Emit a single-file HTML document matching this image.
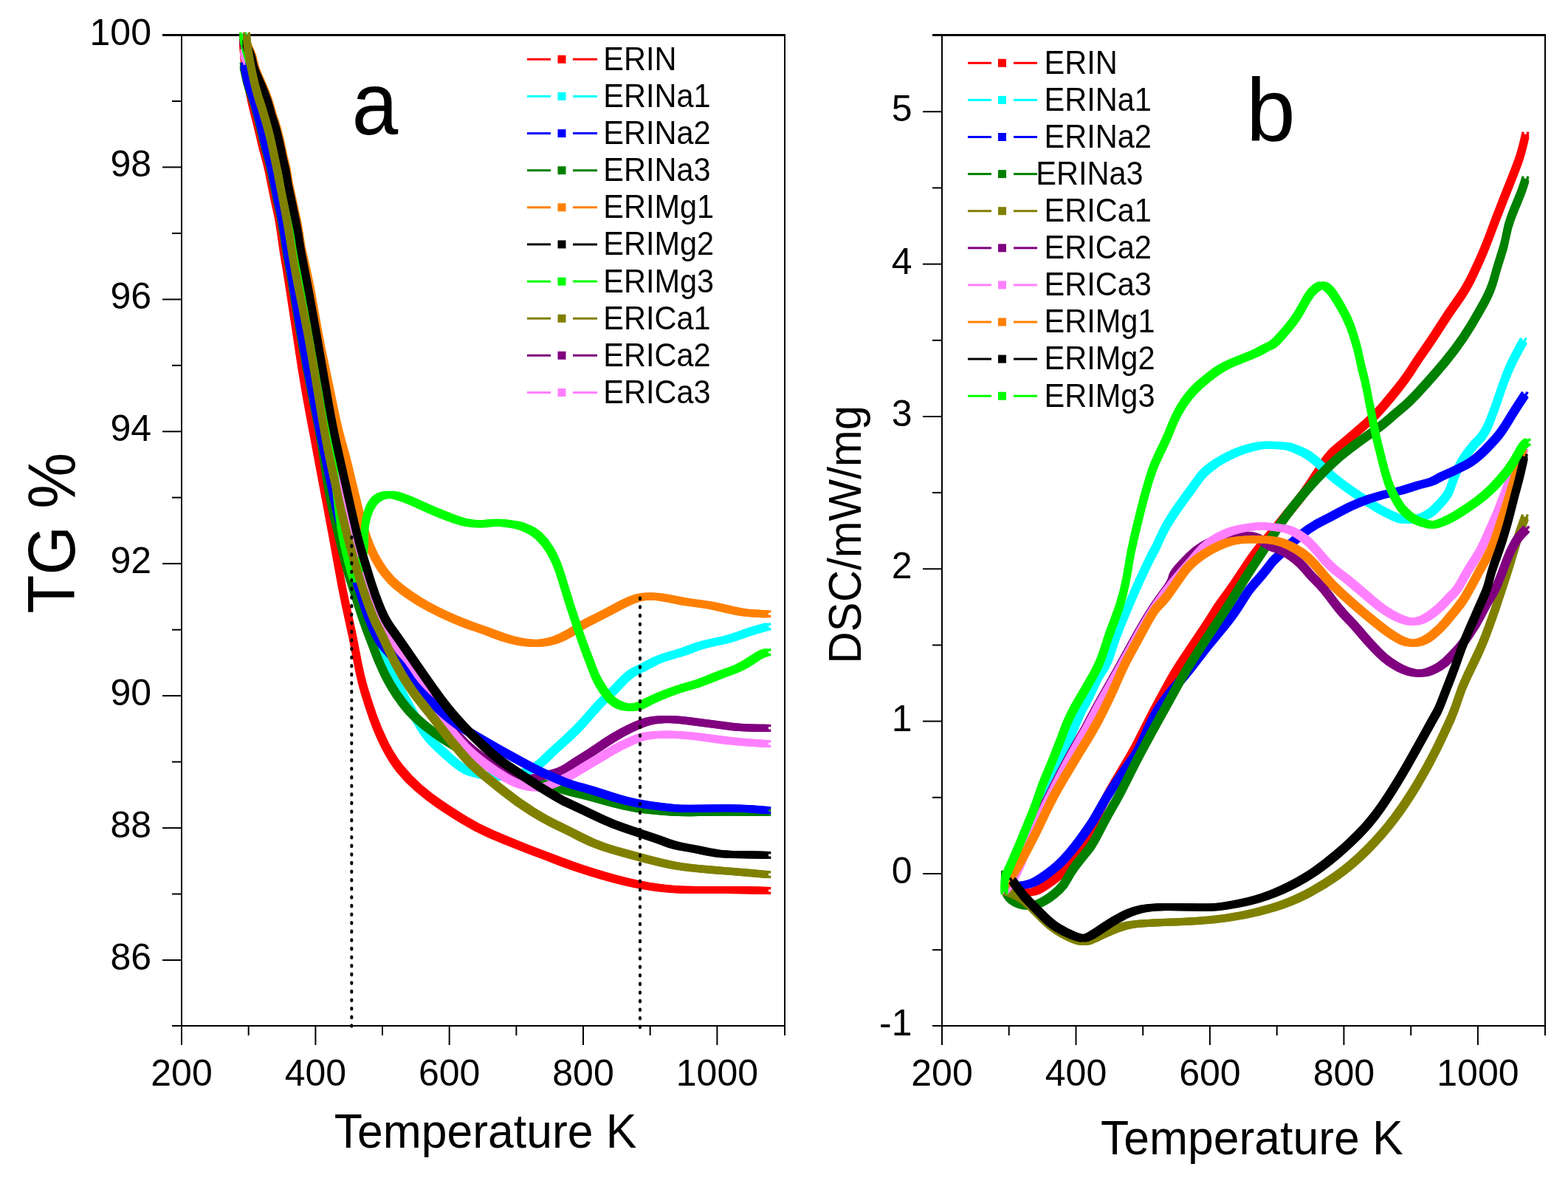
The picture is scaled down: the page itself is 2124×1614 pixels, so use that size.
<!DOCTYPE html>
<html><head><meta charset="utf-8"><title>TG / DSC</title>
<style>html,body{margin:0;padding:0;background:#fff;}svg{display:block;}text{font-family:'Liberation Sans', Arial, sans-serif;fill:#000;}</style></head><body>
<svg xmlns="http://www.w3.org/2000/svg" width="2124" height="1614" viewBox="0 0 2124 1614">
<rect width="2124" height="1614" fill="#fff"/>
<g stroke="#000" fill="none">
<line x1="220" y1="47.5" x2="1064" y2="47.5" stroke-width="3"/>
<line x1="246" y1="46" x2="246" y2="1390" stroke-width="2"/>
<line x1="1063" y1="46" x2="1063" y2="1402" stroke-width="2"/>
<line x1="233" y1="1389" x2="1064" y2="1389" stroke-width="2"/>
<line x1="220" y1="1300" x2="246" y2="1300" stroke-width="2"/>
<line x1="220" y1="1121.1" x2="246" y2="1121.1" stroke-width="2"/>
<line x1="220" y1="942.1" x2="246" y2="942.1" stroke-width="2"/>
<line x1="220" y1="763.2" x2="246" y2="763.2" stroke-width="2"/>
<line x1="220" y1="584.3" x2="246" y2="584.3" stroke-width="2"/>
<line x1="220" y1="405.4" x2="246" y2="405.4" stroke-width="2"/>
<line x1="220" y1="226.4" x2="246" y2="226.4" stroke-width="2"/>
<line x1="233" y1="1210.5" x2="246" y2="1210.5" stroke-width="2"/>
<line x1="233" y1="1031.6" x2="246" y2="1031.6" stroke-width="2"/>
<line x1="233" y1="852.7" x2="246" y2="852.7" stroke-width="2"/>
<line x1="233" y1="673.7" x2="246" y2="673.7" stroke-width="2"/>
<line x1="233" y1="494.8" x2="246" y2="494.8" stroke-width="2"/>
<line x1="233" y1="315.9" x2="246" y2="315.9" stroke-width="2"/>
<line x1="233" y1="137" x2="246" y2="137" stroke-width="2"/>
<line x1="246" y1="1389" x2="246" y2="1415" stroke-width="2"/>
<line x1="427.4" y1="1389" x2="427.4" y2="1415" stroke-width="2"/>
<line x1="608.7" y1="1389" x2="608.7" y2="1415" stroke-width="2"/>
<line x1="790" y1="1389" x2="790" y2="1415" stroke-width="2"/>
<line x1="971.4" y1="1389" x2="971.4" y2="1415" stroke-width="2"/>
<line x1="336.7" y1="1389" x2="336.7" y2="1402" stroke-width="2"/>
<line x1="518" y1="1389" x2="518" y2="1402" stroke-width="2"/>
<line x1="699.4" y1="1389" x2="699.4" y2="1402" stroke-width="2"/>
<line x1="880.7" y1="1389" x2="880.7" y2="1402" stroke-width="2"/>
</g>
<g font-size="50">
<text x="205" y="60.5" text-anchor="end">100</text>
<text x="205" y="239.4" text-anchor="end">98</text>
<text x="205" y="418.4" text-anchor="end">96</text>
<text x="205" y="597.3" text-anchor="end">94</text>
<text x="205" y="776.2" text-anchor="end">92</text>
<text x="205" y="955.1" text-anchor="end">90</text>
<text x="205" y="1134.1" text-anchor="end">88</text>
<text x="205" y="1313" text-anchor="end">86</text>
<text x="246" y="1469.5" text-anchor="middle">200</text>
<text x="427.4" y="1469.5" text-anchor="middle">400</text>
<text x="608.7" y="1469.5" text-anchor="middle">600</text>
<text x="790" y="1469.5" text-anchor="middle">800</text>
<text x="971.4" y="1469.5" text-anchor="middle">1000</text>
</g>
<defs>
<path id="c1" d="M329 50L329.5 62.5Q330 75 331.7 87.2Q333.4 99.5 337.1 119Q340.8 138.5 345.5 156.2Q350.1 173.8 352.5 184.9Q354.8 196 358.1 207Q361.3 218 364.1 231.2Q366.8 244.5 369.6 258.4Q372.4 272.3 375.2 284.4Q378 296.5 380.8 316.9Q383.5 337.4 386.8 355.9Q390 374.3 395.6 411.5Q401.3 448.7 406.9 485.9Q412.5 523 419.9 561.5Q427.3 600 432.2 627Q437.2 654 444.4 691.5Q451.5 729 458.1 766Q464.6 803 471.1 831.5Q477.7 860 482.8 887.9Q487.9 915.8 493.4 934.4Q499 953 505.5 971.5Q512 990 521.3 1008.5Q530.6 1027 541.8 1041Q553 1055 566.9 1067Q580.8 1079 594.8 1088.5Q608.7 1098 627.3 1109.5Q645.9 1121 664.5 1129Q683 1137 701.6 1144.4Q720.2 1151.8 730.1 1155.4Q740 1159 755.4 1165Q770.7 1171 786 1176Q801.3 1181 816.6 1185.5Q832 1190 847.4 1193.8Q862.7 1197.5 878 1200Q893.3 1202.5 908.6 1203.8Q924 1205 944.5 1205Q965 1205 985.4 1205Q1005.8 1205 1041 1206"/>
<path id="c2" d="M331 50L332.6 57Q334.2 64 337.9 84.5Q341.7 105 345.4 119Q349.1 133 351.5 139.5Q353.8 146 358.9 163.5Q364 181 366.8 194Q369.5 207 372.3 220Q375.1 233 377.9 248Q380.7 263 384.4 281.5Q388.1 300 390.9 318.5Q393.7 337 396.9 355.5Q400 374 408 412Q416 450 422 486.5Q428 523 434.5 561.5Q441 600 446.5 627Q452 654 460 691.5Q468 729 476 759.5Q484 790 490.5 815Q497 840 503.5 857.5Q510 875 515 885Q520 895 523.5 900.8Q527 906.5 540 929.8Q553 953 564 973.5Q575 994 587.2 1006Q599.4 1018 613.3 1030Q627.3 1042 636.6 1045Q645.9 1048 658 1050.5Q670 1053 685 1051.5Q700 1050 707.5 1047Q715 1044 722.2 1040.3Q729.5 1036.6 738.8 1027.3Q748 1018 759.4 1008Q770.7 998 780.9 987.9Q791 977.7 801.3 965.4Q811.6 953 821.8 943.9Q832 934.8 842.2 923.5Q852.5 912.3 862.8 907.6Q873 903 880.8 898.5Q888.6 894 897.9 890.9Q907.2 887.7 916.5 885.2Q925.8 882.8 935 879Q944.3 875.3 953.6 872.8Q963 870.4 972.2 868.5Q981.5 866.7 990.8 863.9Q1000 861 1009.4 857.6Q1018.7 854.3 1041 848"/>
<path id="c3" d="M329.5 88L331.8 99Q334 110 336.5 117.5Q339 125 341.4 131.8Q343.8 138.5 348.5 156.2Q353.1 173.8 355.5 184.9Q357.8 196 361.1 207Q364.3 218 367.1 231.2Q369.8 244.5 372.6 258.4Q375.4 272.3 378.2 284.4Q381 296.5 384 316.9Q387 337.4 390.5 355.7Q394 374 400 411.5Q406 449 413 486Q420 523 427.8 561.5Q435.5 600 440.2 634Q445 668 452.2 698.5Q459.5 729 465.1 751.5Q470.7 774 474.9 786.4Q479 798.7 484.2 816Q489.5 833.4 496 850.8Q502.5 868.1 509.2 885.5Q516 902.8 522.7 915.8Q529.4 928.8 537.2 940.4Q545 952 553.5 961.8Q562 971.5 576 982.8Q590 994 605 1003.5Q620 1013 635 1021Q650 1029 665 1035.5Q680 1042 695 1047.5Q710 1053 725 1057.5Q740 1062 755.4 1067Q770.7 1072 786 1075.5Q801.3 1079 816.6 1083.5Q832 1088 847.4 1091.5Q862.7 1095 878 1096.8Q893.3 1098.5 908.6 1099.5Q924 1100.5 944.5 1100Q965 1099.5 985.4 1099.5Q1005.8 1099.5 1041 1100"/>
<path id="c4" d="M330 60L332.2 59Q334.5 58 335.2 61Q336 64 339.2 70.5Q342.5 77 344 85.5Q345.5 94 351 106Q356.5 118 360.8 129Q365 140 367.5 149.5Q370 159 372 164.5Q374 170 377 181Q380 192 382.5 204.5Q385 217 387 224.5Q389 232 390.2 241Q391.5 250 393.8 260Q396 270 398 279.5Q400 289 401.8 297Q403.5 305 404.8 312Q406 319 407.2 328Q408.5 337 412.8 355.5Q417 374 419 383.5Q421 393 427.5 430Q434 467 440 495Q446 523 451.8 551.5Q457.5 580 463.2 600Q469 620 473 637Q477 654 480.8 669.3Q484.5 684.6 488.2 699.5Q491.9 714.3 497.1 729.1Q502.3 744 508.2 755.2Q514.2 766.4 521.6 776Q529 785.7 538 793.2Q546.9 800.6 558 808Q569.2 815.5 580.4 821.5Q591.5 827.4 602.6 832.6Q613.8 837.8 625 842.2Q636.1 846.7 647.2 850.4Q658.4 854.1 669.5 858.5Q680.7 863 691.9 866Q703 869 711.5 870Q720 871 726.8 871Q733.6 871 742.9 869.1Q752.2 867.2 761.5 862.6Q770.8 858 780.1 851.9Q789.4 845.8 803.3 838.9Q817.3 832 831.2 824.5Q845.2 817 854.5 812.9Q863.8 808.7 873 807.8Q882.3 806.8 894.8 808.5Q907.2 810.3 916.5 812.5Q925.8 814.6 935 815.8Q944.3 817 953.6 818.3Q963 819.6 972.2 821.8Q981.5 824 990.8 826.1Q1000 828.2 1009.4 829.5Q1018.7 830.7 1041 831.3"/>
<path id="c5" d="M329 55L330 58.5Q331 62 337.4 83.5Q343.7 105 347.4 119Q351.1 133 353.5 139.5Q355.8 146 360.9 163.5Q366 181 368.8 194Q371.5 207 374.3 220Q377.1 233 379.9 248Q382.7 263 386.4 281.5Q390.1 300 392.9 318.5Q395.7 337 398.9 355.5Q402 374 410 412Q418 450 424 486.5Q430 523 436.5 561.5Q443 600 449 627Q455 654 462 686Q469 718 473 734.5Q477 751 482 768Q487 785 492.5 801.5Q498 818 506.5 831.5Q515 845 523.5 858Q532 871 543 885Q554 899 561 911Q568 923 573 931Q578 939 585 950.5Q592 962 598.5 970Q605 978 612.5 987.5Q620 997 630 1006.5Q640 1016 655.5 1027.5Q671 1039 680.5 1045Q690 1051 697.5 1052.5Q705 1054 712.5 1054.5Q720 1055 730 1052Q740 1049 750.2 1047Q760.4 1045 770.6 1038Q780.9 1030.9 791.1 1024.8Q801.3 1018.6 811.5 1011.5Q821.8 1004.3 832 998.1Q842.2 992 852.5 986.9Q862.7 981.8 872.9 978.2Q883.1 974.6 898.5 974.1Q913.8 973.6 929.1 975.7Q944.5 977.7 959.8 979.8Q975.1 981.8 990.5 983.8Q1005.8 985.9 1041 985.9"/>
<path id="c6" d="M330 70L331 75Q332 80 338.9 92.5Q345.7 105 349.4 119Q353.1 133 355.5 139.5Q357.8 146 362.9 163.5Q368 181 370.8 194Q373.5 207 376.3 220Q379.1 233 381.9 248Q384.7 263 388.4 281.5Q392.1 300 394.9 318.5Q397.7 337 400.9 355.5Q404 374 412 412Q420 450 426 486.5Q432 523 438.5 561.5Q445 600 451 627Q457 654 464 686Q471 718 475 734.5Q479 751 484 768Q489 785 494.5 801.5Q500 818 508.5 831.5Q517 845 525.6 857Q534.3 869 545.5 885.9Q556.7 902.8 563.9 915.8Q571 928.8 575.9 937.9Q580.8 947 587.4 957Q594 967 599.5 974.5Q605 982 612.5 991.5Q620 1001 630 1011.2Q640 1021.5 655.5 1033.2Q671 1045 686.3 1053.8Q701.6 1062.5 715.5 1065.2Q729.5 1068 739.9 1064.8Q750.2 1061.5 760.5 1056.4Q770.7 1051.3 780.9 1045.2Q791 1039 801.3 1032.9Q811.6 1026.8 821.8 1020.6Q832 1014.5 842.2 1009.4Q852.5 1004.3 862.8 1000.1Q873 996 888.3 995Q903.6 994 918.9 995Q934.2 996 949.6 998Q965 1000 980.3 1002.1Q995.6 1004.3 1041 1007.3"/>
<path id="c7" d="M330.5 88L332.8 99Q335 110 337.5 117.5Q340 125 342.4 131.8Q344.8 138.5 349.5 156.2Q354.1 173.8 356.5 184.9Q358.8 196 362.1 207Q365.3 218 368.1 231.2Q370.8 244.5 373.6 258.4Q376.4 272.3 379.2 284.4Q382 296.5 385 316.9Q388 337.4 391.5 355.7Q395 374 401 411.5Q407 449 414 486Q421 523 428.8 561.5Q436.5 600 442 625.5Q447.5 651 452 673.5Q456.5 696 460.5 707Q464.5 718 470.2 739Q476 760 479.8 775Q483.5 790 485.2 794.4Q487 798.7 492.2 816Q497.5 833.4 505.2 850.8Q513 868.1 521.5 877.5Q530 887 537.5 894.9Q545 902.8 553 915.8Q561 928.8 575.5 942.8Q590 956.7 604 968.8Q618 980.8 636.5 991.9Q655 1003 673.5 1013.3Q692 1023.6 710.8 1033.8Q729.5 1044 744.8 1050.5Q760 1057 765.4 1059.2Q770.7 1061.5 786 1065.6Q801.3 1069.7 816.6 1074.8Q832 1080 847.4 1084Q862.7 1088 878 1090Q893.3 1092 908.6 1093.7Q924 1095.3 944.5 1094.8Q965 1094.2 985.4 1094.2Q1005.8 1094.2 1041 1097.3"/>
<path id="c8" d="M329 47L330 53.5Q331 60 334 70Q337 80 341.5 92.5Q346 105 353 125.5Q360 146 368 176.5Q376 207 381.5 235Q387 263 391 281.5Q395 300 398 318.5Q401 337 404.5 355.5Q408 374 415 411.5Q422 449 428 484.5Q434 520 440 550Q446 580 450 615Q454 650 457.5 680.5Q461 711 464 725.5Q467 740 470 752.5Q473 765 476.5 777Q480 789 483.5 779.5Q487 770 490.5 757.5Q494 745 493.7 729.6Q493.4 714.3 496.4 701.6Q499.3 689 504.5 681.6Q509.7 674.2 517.1 671.6Q524.6 669 532 670.1Q539.5 671.2 550.6 675.7Q561.8 680.1 572.9 685.4Q584 690.6 595.2 695Q606.4 699.5 617.5 703.6Q628.7 707.7 639.9 708.9Q651 710 662.1 708.5Q673.3 707 684.5 708.5Q695.6 710 700.7 711Q705.8 712 715 716.2Q724.3 720.4 731.8 727.7Q739.2 735 744.8 744.4Q750.4 753.8 754.1 763.1Q757.8 772.4 760.6 781.7Q763.4 791 767.1 803Q770.8 815 775.4 829Q780 843 784.7 857Q789.4 871 794 883Q798.7 895 802.4 905Q806 915 809.5 921.5Q813 928 819.5 937.5Q825.9 947 834 952.1Q842.2 957.2 852.5 957.8Q862.7 958.3 872.9 952.6Q883.1 947 895.2 942.1Q907.2 937.3 916.5 934.1Q925.8 931 935 928.5Q944.3 926.1 953.6 922.4Q963 918.7 972.2 915Q981.5 911.3 990.8 908.1Q1000 905 1009.4 899.5Q1018.7 894 1024.8 889.6Q1031 885.2 1041 882.8"/>
<path id="c9" d="M333 58L333.8 61Q334.5 64 337.8 70.5Q341 77 342.5 85.5Q344 94 349.5 106Q355 118 359.2 129Q363.5 140 366 149.5Q368.5 159 370.5 164.5Q372.5 170 375.5 181Q378.5 192 381 204.5Q383.5 217 385.5 224.5Q387.5 232 388.8 241Q390 250 392.2 260Q394.5 270 396.5 279.5Q398.5 289 400.2 297Q402 305 403.2 312Q404.5 319 405.8 328Q407 337 410.7 355.5Q414.4 374 421.4 411.5Q428.3 449 434.4 484.5Q440.5 520 445.8 550Q451 580 459.4 617Q467.8 654 476.2 691.5Q484.6 729 490.1 747.5Q495.7 766 501.4 784.5Q507 803 514.4 821.5Q521.7 840 529.9 851Q538 862 550 879.5Q562 897 576 917Q590 937 597.5 947Q605 957 612.5 966Q620 975 630 985.5Q640 996 656.9 1011.8Q673.8 1027.5 687.7 1036.8Q701.6 1046 715.5 1055.2Q729.5 1064.5 744.8 1073.8Q760 1083 765.4 1085.5Q770.7 1088 786 1095.2Q801.3 1102.4 816.6 1109.6Q832 1116.7 847.4 1121.8Q862.7 1127 878 1132Q893.3 1137 903.5 1141Q913.8 1145 929.1 1147.5Q944.5 1150 959.8 1153.5Q975.1 1157 990.5 1157Q1005.8 1157 1041 1158"/>
<path id="c10" d="M334 47L334.6 55.5Q335.2 64 338.9 84.5Q342.7 105 346.4 119Q350.1 133 352.5 139.5Q354.8 146 359.9 163.5Q365 181 367.8 194Q370.5 207 373.3 220Q376.1 233 378.9 248Q381.7 263 385.4 281.5Q389.1 300 391.9 318.5Q394.7 337 397.9 355.5Q401 374 409 412Q417 450 423 486.5Q429 523 435.5 561.5Q442 600 447.9 627Q453.9 654 462.2 691.5Q470.6 729 481.8 766Q493 803 500 821.5Q507 840 512.3 850Q517.6 860 526 878.5Q534.3 897 545.5 915.5Q556.7 934 568.8 949Q580.8 964 587.4 972.5Q594 981 601.4 990.8Q608.7 1000.5 616.9 1010.2Q625 1020 632.5 1028.3Q640 1036.6 652.2 1046.8Q664.5 1057 683 1071.9Q701.6 1086.8 720.8 1098.7Q740 1110.6 755.4 1117.8Q770.7 1125 786 1133.2Q801.3 1141.3 816.6 1146.4Q832 1151.5 847.4 1155.6Q862.7 1159.7 878 1163.8Q893.3 1167.8 908.6 1170.9Q924 1174 944.5 1176Q965 1178 985.4 1179.5Q1005.8 1181 1041 1184.2"/>
</defs>
<g fill="none" stroke="#FF0000" stroke-linejoin="round" stroke-linecap="butt">
<use href="#c1" stroke-width="10"/>
<use href="#c1" stroke-width="3.5" transform="translate(3.3 3.3)"/>
<use href="#c1" stroke-width="3.5" transform="translate(-3.3 3.3)"/>
<use href="#c1" stroke-width="3.5" transform="translate(3.3 -3.3)"/>
<use href="#c1" stroke-width="3.5" transform="translate(-3.3 -3.3)"/>
</g>
<g fill="none" stroke="#00FFFF" stroke-linejoin="round" stroke-linecap="butt">
<use href="#c2" stroke-width="10"/>
<use href="#c2" stroke-width="3.5" transform="translate(3.3 3.3)"/>
<use href="#c2" stroke-width="3.5" transform="translate(-3.3 3.3)"/>
<use href="#c2" stroke-width="3.5" transform="translate(3.3 -3.3)"/>
<use href="#c2" stroke-width="3.5" transform="translate(-3.3 -3.3)"/>
</g>
<g fill="none" stroke="#008000" stroke-linejoin="round" stroke-linecap="butt">
<use href="#c3" stroke-width="10"/>
<use href="#c3" stroke-width="3.5" transform="translate(3.3 3.3)"/>
<use href="#c3" stroke-width="3.5" transform="translate(-3.3 3.3)"/>
<use href="#c3" stroke-width="3.5" transform="translate(3.3 -3.3)"/>
<use href="#c3" stroke-width="3.5" transform="translate(-3.3 -3.3)"/>
</g>
<g fill="none" stroke="#FF8000" stroke-linejoin="round" stroke-linecap="butt">
<use href="#c4" stroke-width="10"/>
<use href="#c4" stroke-width="3.5" transform="translate(3.3 3.3)"/>
<use href="#c4" stroke-width="3.5" transform="translate(-3.3 3.3)"/>
<use href="#c4" stroke-width="3.5" transform="translate(3.3 -3.3)"/>
<use href="#c4" stroke-width="3.5" transform="translate(-3.3 -3.3)"/>
</g>
<g fill="none" stroke="#800080" stroke-linejoin="round" stroke-linecap="butt">
<use href="#c5" stroke-width="10"/>
<use href="#c5" stroke-width="3.5" transform="translate(3.3 3.3)"/>
<use href="#c5" stroke-width="3.5" transform="translate(-3.3 3.3)"/>
<use href="#c5" stroke-width="3.5" transform="translate(3.3 -3.3)"/>
<use href="#c5" stroke-width="3.5" transform="translate(-3.3 -3.3)"/>
</g>
<g fill="none" stroke="#FF80FF" stroke-linejoin="round" stroke-linecap="butt">
<use href="#c6" stroke-width="10"/>
<use href="#c6" stroke-width="3.5" transform="translate(3.3 3.3)"/>
<use href="#c6" stroke-width="3.5" transform="translate(-3.3 3.3)"/>
<use href="#c6" stroke-width="3.5" transform="translate(3.3 -3.3)"/>
<use href="#c6" stroke-width="3.5" transform="translate(-3.3 -3.3)"/>
</g>
<g fill="none" stroke="#0000FF" stroke-linejoin="round" stroke-linecap="butt">
<use href="#c7" stroke-width="10"/>
<use href="#c7" stroke-width="3.5" transform="translate(3.3 3.3)"/>
<use href="#c7" stroke-width="3.5" transform="translate(-3.3 3.3)"/>
<use href="#c7" stroke-width="3.5" transform="translate(3.3 -3.3)"/>
<use href="#c7" stroke-width="3.5" transform="translate(-3.3 -3.3)"/>
</g>
<g fill="none" stroke="#00FF00" stroke-linejoin="round" stroke-linecap="butt">
<use href="#c8" stroke-width="10"/>
<use href="#c8" stroke-width="3.5" transform="translate(3.3 3.3)"/>
<use href="#c8" stroke-width="3.5" transform="translate(-3.3 3.3)"/>
<use href="#c8" stroke-width="3.5" transform="translate(3.3 -3.3)"/>
<use href="#c8" stroke-width="3.5" transform="translate(-3.3 -3.3)"/>
</g>
<g fill="none" stroke="#000000" stroke-linejoin="round" stroke-linecap="butt">
<use href="#c9" stroke-width="10"/>
<use href="#c9" stroke-width="3.5" transform="translate(3.3 3.3)"/>
<use href="#c9" stroke-width="3.5" transform="translate(-3.3 3.3)"/>
<use href="#c9" stroke-width="3.5" transform="translate(3.3 -3.3)"/>
<use href="#c9" stroke-width="3.5" transform="translate(-3.3 -3.3)"/>
</g>
<g fill="none" stroke="#808000" stroke-linejoin="round" stroke-linecap="butt">
<use href="#c10" stroke-width="10"/>
<use href="#c10" stroke-width="3.5" transform="translate(3.3 3.3)"/>
<use href="#c10" stroke-width="3.5" transform="translate(-3.3 3.3)"/>
<use href="#c10" stroke-width="3.5" transform="translate(3.3 -3.3)"/>
<use href="#c10" stroke-width="3.5" transform="translate(-3.3 -3.3)"/>
</g>
<g stroke="#000" stroke-width="4" stroke-linecap="round" fill="none">
<line x1="476.3" y1="727" x2="476.3" y2="1392" stroke-dasharray="1.6 10"/>
<line x1="867" y1="809.6" x2="867" y2="1392" stroke-dasharray="1.6 10"/>
</g>
<text transform="translate(452.7 1554.2) scale(1.016 1.045)" font-size="61.5">Temperature K</text>
<text transform="translate(101.4 830.7) rotate(-90) scale(0.98 1.045)" font-size="87">TG %</text>
<text transform="translate(476.5 182) scale(0.94 1)" font-size="120">a</text>
<g>
<line x1="714" y1="80.3" x2="746" y2="80.3" stroke="#FF0000" stroke-width="3"/>
<line x1="776" y1="80.3" x2="809" y2="80.3" stroke="#FF0000" stroke-width="3"/>
<rect x="755.5" y="74.8" width="11" height="11" fill="#FF0000"/>
<text transform="translate(817.3 94.8) scale(1 1.06)" font-size="41.5">ERIN</text>
<line x1="714" y1="130.4" x2="746" y2="130.4" stroke="#00FFFF" stroke-width="3"/>
<line x1="776" y1="130.4" x2="809" y2="130.4" stroke="#00FFFF" stroke-width="3"/>
<rect x="755.5" y="124.9" width="11" height="11" fill="#00FFFF"/>
<text transform="translate(817.3 144.9) scale(1 1.06)" font-size="41.5">ERINa1</text>
<line x1="714" y1="180.6" x2="746" y2="180.6" stroke="#0000FF" stroke-width="3"/>
<line x1="776" y1="180.6" x2="809" y2="180.6" stroke="#0000FF" stroke-width="3"/>
<rect x="755.5" y="175.1" width="11" height="11" fill="#0000FF"/>
<text transform="translate(817.3 195.1) scale(1 1.06)" font-size="41.5">ERINa2</text>
<line x1="714" y1="230.7" x2="746" y2="230.7" stroke="#008000" stroke-width="3"/>
<line x1="776" y1="230.7" x2="809" y2="230.7" stroke="#008000" stroke-width="3"/>
<rect x="755.5" y="225.2" width="11" height="11" fill="#008000"/>
<text transform="translate(817.3 245.2) scale(1 1.06)" font-size="41.5">ERINa3</text>
<line x1="714" y1="280.8" x2="746" y2="280.8" stroke="#FF8000" stroke-width="3"/>
<line x1="776" y1="280.8" x2="809" y2="280.8" stroke="#FF8000" stroke-width="3"/>
<rect x="755.5" y="275.3" width="11" height="11" fill="#FF8000"/>
<text transform="translate(817.3 295.3) scale(1 1.06)" font-size="41.5">ERIMg1</text>
<line x1="714" y1="330.9" x2="746" y2="330.9" stroke="#000000" stroke-width="3"/>
<line x1="776" y1="330.9" x2="809" y2="330.9" stroke="#000000" stroke-width="3"/>
<rect x="755.5" y="325.4" width="11" height="11" fill="#000000"/>
<text transform="translate(817.3 345.4) scale(1 1.06)" font-size="41.5">ERIMg2</text>
<line x1="714" y1="381.1" x2="746" y2="381.1" stroke="#00FF00" stroke-width="3"/>
<line x1="776" y1="381.1" x2="809" y2="381.1" stroke="#00FF00" stroke-width="3"/>
<rect x="755.5" y="375.6" width="11" height="11" fill="#00FF00"/>
<text transform="translate(817.3 395.6) scale(1 1.06)" font-size="41.5">ERIMg3</text>
<line x1="714" y1="431.2" x2="746" y2="431.2" stroke="#808000" stroke-width="3"/>
<line x1="776" y1="431.2" x2="809" y2="431.2" stroke="#808000" stroke-width="3"/>
<rect x="755.5" y="425.7" width="11" height="11" fill="#808000"/>
<text transform="translate(817.3 445.7) scale(1 1.06)" font-size="41.5">ERICa1</text>
<line x1="714" y1="481.3" x2="746" y2="481.3" stroke="#800080" stroke-width="3"/>
<line x1="776" y1="481.3" x2="809" y2="481.3" stroke="#800080" stroke-width="3"/>
<rect x="755.5" y="475.8" width="11" height="11" fill="#800080"/>
<text transform="translate(817.3 495.8) scale(1 1.06)" font-size="41.5">ERICa2</text>
<line x1="714" y1="531.5" x2="746" y2="531.5" stroke="#FF80FF" stroke-width="3"/>
<line x1="776" y1="531.5" x2="809" y2="531.5" stroke="#FF80FF" stroke-width="3"/>
<rect x="755.5" y="526" width="11" height="11" fill="#FF80FF"/>
<text transform="translate(817.3 546) scale(1 1.06)" font-size="41.5">ERICa3</text>
</g>
<g stroke="#000" fill="none">
<line x1="1263" y1="47.5" x2="2094" y2="47.5" stroke-width="3"/>
<line x1="1276" y1="46" x2="1276" y2="1390" stroke-width="2"/>
<line x1="2093" y1="46" x2="2093" y2="1402" stroke-width="2"/>
<line x1="1263" y1="1389" x2="2094" y2="1389" stroke-width="2"/>
<line x1="1250" y1="1183" x2="1276" y2="1183" stroke-width="2"/>
<line x1="1250" y1="976.6" x2="1276" y2="976.6" stroke-width="2"/>
<line x1="1250" y1="770.3" x2="1276" y2="770.3" stroke-width="2"/>
<line x1="1250" y1="564" x2="1276" y2="564" stroke-width="2"/>
<line x1="1250" y1="357.6" x2="1276" y2="357.6" stroke-width="2"/>
<line x1="1250" y1="151.2" x2="1276" y2="151.2" stroke-width="2"/>
<line x1="1263" y1="1286.2" x2="1276" y2="1286.2" stroke-width="2"/>
<line x1="1263" y1="1079.8" x2="1276" y2="1079.8" stroke-width="2"/>
<line x1="1263" y1="873.5" x2="1276" y2="873.5" stroke-width="2"/>
<line x1="1263" y1="667.1" x2="1276" y2="667.1" stroke-width="2"/>
<line x1="1263" y1="460.8" x2="1276" y2="460.8" stroke-width="2"/>
<line x1="1263" y1="254.4" x2="1276" y2="254.4" stroke-width="2"/>
<line x1="1276" y1="1389" x2="1276" y2="1415" stroke-width="2"/>
<line x1="1457.5" y1="1389" x2="1457.5" y2="1415" stroke-width="2"/>
<line x1="1638.9" y1="1389" x2="1638.9" y2="1415" stroke-width="2"/>
<line x1="1820.4" y1="1389" x2="1820.4" y2="1415" stroke-width="2"/>
<line x1="2001.9" y1="1389" x2="2001.9" y2="1415" stroke-width="2"/>
<line x1="1366.7" y1="1389" x2="1366.7" y2="1402" stroke-width="2"/>
<line x1="1548.2" y1="1389" x2="1548.2" y2="1402" stroke-width="2"/>
<line x1="1729.7" y1="1389" x2="1729.7" y2="1402" stroke-width="2"/>
<line x1="1911.2" y1="1389" x2="1911.2" y2="1402" stroke-width="2"/>
</g>
<g font-size="50">
<text x="1235.5" y="1402.3" text-anchor="end">-1</text>
<text x="1235.5" y="1196" text-anchor="end">0</text>
<text x="1235.5" y="989.6" text-anchor="end">1</text>
<text x="1235.5" y="783.3" text-anchor="end">2</text>
<text x="1235.5" y="577" text-anchor="end">3</text>
<text x="1235.5" y="370.6" text-anchor="end">4</text>
<text x="1235.5" y="164.2" text-anchor="end">5</text>
<text x="1276" y="1469.5" text-anchor="middle">200</text>
<text x="1457.5" y="1469.5" text-anchor="middle">400</text>
<text x="1638.9" y="1469.5" text-anchor="middle">600</text>
<text x="1820.4" y="1469.5" text-anchor="middle">800</text>
<text x="2001.9" y="1469.5" text-anchor="middle">1000</text>
</g>
<defs>
<path id="c11" d="M1361 1190L1363.5 1193.5Q1366 1197 1369.9 1199.8Q1373.8 1202.5 1380.2 1205.8Q1386.5 1209 1393.5 1208.5Q1400.4 1208 1405.2 1205.5Q1410 1203 1417.5 1198Q1425 1193 1432.5 1186.8Q1440.1 1180.7 1446 1173.8Q1452 1167 1458.2 1156.8Q1464.5 1146.7 1469.2 1138.3Q1474 1130 1478.5 1121Q1483 1112 1487 1103.5Q1491 1095 1495.5 1086Q1500 1077 1508.5 1062.5Q1517 1048 1525.5 1033.8Q1534 1019.5 1541 1005.8Q1548 992 1555.8 976.7Q1563.5 961.4 1570.8 948.2Q1578 935 1585 922.2Q1592 909.4 1603.5 892.2Q1615 875 1626.8 857.5Q1638.5 840 1643.7 831.4Q1648.8 822.7 1656.2 812.8Q1663.7 802.9 1671.1 792Q1678.5 781.1 1686 769.7Q1693.4 758.3 1700.8 748.4Q1708.3 738.5 1715.7 730Q1723.1 721.6 1734 707.8Q1745 694 1755.5 681.5Q1766 669 1775 655Q1784 641 1792.9 627.8Q1801.8 614.5 1812 606.4Q1822.2 598.2 1832.4 589.3Q1842.6 580.4 1852.8 571.5Q1863.1 562.7 1873.5 550.4Q1884 538 1894 525.5Q1904 513 1911.7 500.9Q1919.3 488.9 1930.6 472.8Q1941.9 456.7 1952 440.6Q1962 424.5 1973.7 408.4Q1985.4 392.2 1993.7 375.1Q2002 358 2007.7 344.6Q2013.3 331.2 2017.9 318.8Q2022.6 306.4 2027.3 294Q2032.1 281.6 2036.9 269.2Q2041.8 256.8 2046.8 244.4Q2051.7 232 2056.3 219.6Q2061 207.2 2066.6 182"/>
<path id="c12" d="M1361 1192L1364.8 1188.9Q1368.5 1185.8 1375.8 1171.8Q1383 1157.9 1390.5 1146.5Q1398 1135 1401 1125.5Q1404 1116 1406.5 1102.5Q1409 1089 1414.5 1076.5Q1420 1064 1426 1051.8Q1432 1039.6 1442.5 1014.8Q1453 990 1459.5 975Q1466 960 1470.7 952.1Q1475.3 944.2 1481.7 929.6Q1488 915 1494.3 906.3Q1500.7 897.6 1506.3 879Q1512 860.4 1519.8 841.8Q1527.5 823.2 1535.5 804.6Q1543.5 786 1551.9 768.5Q1560.3 751 1562.4 747.5Q1564.5 744.1 1567.8 736.7Q1571.2 729.2 1574.8 721.8Q1578.3 714.3 1582.9 706.9Q1587.5 699.5 1592.5 692Q1597.6 684.6 1603 677.2Q1608.4 669.7 1613.8 662.3Q1619.1 654.9 1624.5 647.5Q1630 640 1639.1 633Q1648.2 625.9 1657.5 621Q1666.8 616 1676 612.2Q1685.3 608.5 1694.6 606Q1703.9 603.6 1710.1 603Q1716.3 602.3 1728.2 603Q1740 603.6 1743.7 604.3Q1747.3 605 1757.5 609Q1767.7 613.1 1774.5 617.9Q1781.3 622.7 1788.1 629.5Q1794.9 636.3 1801.8 642.5Q1808.6 648.6 1818.8 656.1Q1829 663.6 1839.2 670.4Q1849.4 677.2 1859.7 684Q1869.9 690.8 1880.1 695.5Q1890.3 700.3 1895.2 702.4Q1900 704.5 1910 703.8Q1920 703 1928.6 699.4Q1937.2 695.7 1944.5 688.4Q1951.7 681 1956.8 674.8Q1962 668.6 1964 662.8Q1966 657 1971.2 643Q1976.5 629 1985.9 616Q1995.3 603 2003.2 595.5Q2011 588 2018 570.7Q2024.9 553.4 2030.2 537.2Q2035.4 521.1 2041.8 505Q2048.2 488.9 2064 461"/>
<path id="c13" d="M1366 1199L1371 1199.5Q1376 1200 1385.9 1198.5Q1395.8 1197 1402.9 1193.3Q1410 1189.6 1417.5 1184Q1425 1178.5 1432.5 1172Q1440.1 1165.4 1447.8 1156.2Q1455.5 1147 1461.8 1138.5Q1468 1130 1474.3 1121Q1480.7 1112 1485.3 1103.5Q1490 1095 1495.1 1086.2Q1500.2 1077.3 1505.8 1068.7Q1511.5 1060 1518.2 1050Q1525 1040 1532.5 1029.8Q1540 1019.5 1544.5 1009.8Q1549 1000 1553.5 990Q1558 980 1562.5 971Q1567 962 1576.5 949Q1586 936 1598 922.5Q1610 909 1623 891.5Q1636 874 1650.5 857Q1665 840 1672.5 829Q1680 818 1685.7 808.5Q1691.4 799 1698.2 791.5Q1705 784 1711.1 776.6Q1717.2 769.2 1720.8 764.2Q1724.3 759.3 1731.2 753.1Q1738 747 1742.7 742Q1747.3 737 1760.9 725.5Q1774.5 714 1788.2 707.1Q1801.8 700.3 1815.4 692.8Q1829 685.4 1842.7 680Q1856.3 674.5 1869.9 671Q1883.5 667.6 1891.8 665.8Q1900 663.9 1910 660.5Q1920 657 1930 654.8Q1940 652.5 1946.5 648.5Q1953 644.6 1959.5 642Q1966 639.4 1972.5 636.2Q1979 633 1985.5 629.7Q1992 626.4 1998.5 621.2Q2005 616 2011.5 609.5Q2018 603 2025.8 594.3Q2033.7 585.6 2043.3 569.5Q2053 553.4 2066 534"/>
<path id="c14" d="M1361 1182L1361 1193.5Q1361 1205 1363.5 1210Q1366 1215 1370.5 1218.5Q1375 1222 1381.5 1224.5Q1388 1227 1395 1226.5Q1402 1226 1408.5 1223Q1415 1220 1421.5 1215.5Q1428 1211 1434.8 1204.5Q1441.6 1198 1445.8 1189.7Q1450 1181.4 1456.5 1172.7Q1463 1164 1470.3 1155.3Q1477.7 1146.7 1482.3 1138.3Q1487 1130 1491.5 1121Q1496 1112 1501 1103Q1506 1094 1510.9 1085.7Q1515.8 1077.3 1522.9 1063.2Q1530 1049 1537.5 1034.2Q1545 1019.5 1553 1004.8Q1561 990 1569.3 975Q1577.7 960 1584.8 947Q1592 934 1598.8 921.7Q1605.5 909.4 1616.8 891.7Q1628 874 1639.3 857Q1650.6 840 1657.6 829.4Q1664.6 818.8 1676.8 799Q1688.9 779.1 1702.1 759.3Q1715.2 739.5 1724.4 724.7Q1733.6 709.9 1743.8 696.2Q1754.1 682.6 1764.3 670.4Q1774.5 658.1 1784.8 647.2Q1795 636.3 1805.2 626.8Q1815.4 617.2 1829 607Q1842.6 596.8 1856.2 587.2Q1869.9 577.7 1880 568.9Q1890 560 1899 552.6Q1908 545.3 1919.3 533.2Q1930.6 521.1 1944.7 505Q1958.8 488.9 1970.9 472.8Q1983 456.7 1992.7 440.6Q2002.3 424.5 2011.2 408.4Q2020 392.2 2024.2 376.1Q2028.5 360 2033.3 345.6Q2038.1 331.2 2040.2 318.8Q2042.4 306.4 2047 294Q2051.7 281.6 2057 269.2Q2062.3 256.8 2066.6 242"/>
<path id="c15" d="M1362 1207L1367 1208.5Q1372 1210 1379.2 1213.8Q1386.5 1217.5 1395.8 1226.8Q1405 1236 1414.3 1245.2Q1423.6 1254.5 1432.9 1260.2Q1442.2 1266 1451.1 1270Q1460 1274 1465 1274.8Q1470 1275.5 1475 1273.8Q1480 1272 1488 1268Q1496 1264 1505.5 1260Q1515 1256 1525 1253.5Q1535 1251 1554.5 1250Q1574 1249 1597 1248.3Q1620 1247.6 1641 1245.4Q1662.1 1243.3 1683.2 1239.2Q1704.3 1235 1725.3 1228.7Q1746.4 1222.3 1767.5 1211.8Q1788.5 1201.2 1809.6 1186.5Q1830.7 1171.7 1851.8 1150.7Q1872.8 1129.6 1888.6 1108.5Q1904.4 1087.5 1920.2 1061.2Q1936 1034.8 1948.7 1008.5Q1961.3 982.1 1966.1 971Q1970.9 960 1975.5 945.5Q1980 931 1987.5 915.5Q1995 900 2001.6 886.1Q2008.2 872.3 2015.1 853.6Q2022 835 2028.2 816.6Q2034.3 798.2 2038.5 785.2Q2042.8 772.2 2046.7 759.2Q2050.6 746.1 2054.5 733.1Q2058.4 720.1 2066 700"/>
<path id="c16" d="M1361 1192L1364.8 1193.5Q1368.5 1195 1374.3 1184.1Q1380.1 1173.2 1386.3 1156.6Q1392.5 1140 1399.3 1124Q1406.2 1108 1412.3 1095.5Q1418.5 1083 1424 1072.2Q1429.5 1061.3 1435 1050.4Q1440.5 1039.6 1447.5 1026.8Q1454.5 1014 1461.5 1002Q1468.5 990 1475.5 976.5Q1482.5 963 1490.5 949Q1498.5 935 1507 920Q1515.5 905 1524.5 888.5Q1533.5 872 1542.5 856Q1551.5 840 1560.5 826Q1569.5 812 1578 801Q1586.5 790 1587.5 784.3Q1588.6 778.6 1595.8 770.3Q1603 762 1611.5 753.5Q1620 745 1630 739Q1640 733 1650 730Q1660 727 1670 725.8Q1680 724.6 1690 725Q1700 725.5 1707 730.2Q1714 735 1717 737.5Q1720 739.9 1730.2 743.3Q1740.4 746.7 1750.7 754.2Q1760.9 761.7 1767.7 769.9Q1774.5 778 1777.2 780.8Q1780 783.6 1786.8 790.5Q1793.6 797.3 1800.4 806.8Q1807.3 816.3 1814.1 824.5Q1820.9 832.7 1827.7 839.5Q1834.5 846.3 1841.3 854.5Q1848.2 862.7 1855 870.2Q1861.8 877.7 1868.6 884.5Q1875.4 891.3 1882.2 896.1Q1889.1 900.9 1895.9 904.3Q1902.7 907.7 1909.5 909.8Q1916.3 911.8 1923.2 911.8Q1930 911.8 1936.8 909Q1943.6 906.3 1950.4 902.2Q1957.2 898.1 1964.1 890.6Q1970.9 883.1 1975.5 878.4Q1980 873.6 1990 859.3Q2000 845 2007.5 830Q2015 815 2020.5 806.5Q2026 798 2031 785Q2036 772 2040.5 760Q2045 748 2050 739Q2055 730 2058.5 726Q2062 722 2068 716"/>
<path id="c17" d="M1361 1206L1365.5 1200.5Q1370 1195 1375.8 1184.1Q1381.6 1173.2 1387.8 1156.6Q1394 1140 1400.8 1124Q1407.7 1108 1413.8 1095.5Q1420 1083 1425.5 1072.2Q1431 1061.3 1436.5 1050.4Q1442 1039.6 1449 1026.8Q1456 1014 1463 1002Q1470 990 1477 976.5Q1484 963 1492 949Q1500 935 1508.5 920Q1517 905 1526 888.5Q1535 872 1544 856Q1553 840 1562 826Q1571 812 1579.5 801Q1588 790 1595.5 781Q1603 772 1608.5 766Q1614 760 1621.8 750.5Q1629.5 741 1639.4 734Q1649.3 727.1 1659.2 722.7Q1669.1 718.2 1679 716.2Q1688.9 714.2 1698.8 713Q1708.8 711.7 1719.4 713Q1730 714.2 1738.7 715.5Q1747.3 716.7 1757.5 722.9Q1767.7 729 1774.5 735.8Q1781.3 742.6 1788.1 750.8Q1794.9 759 1801.5 765.5Q1808 772 1814.5 776.5Q1820.9 781 1834.6 792.5Q1848.2 804.1 1861.8 815.7Q1875.4 827.3 1889.1 834.1Q1902.7 840.9 1909.5 841.5Q1916.3 842.2 1923.2 840.2Q1930 838.2 1940.2 830.7Q1950.4 823.2 1957.2 815.6Q1964 808 1969.2 803.1Q1974.5 798.2 1981.3 785.2Q1988.1 772.2 1996.9 759.2Q2005.7 746.1 2011.2 733.1Q2016.8 720.1 2022.7 707.1Q2028.5 694.1 2033.3 681.1Q2038.2 668.1 2043.1 655Q2048 642 2053 630Q2058 618 2066 606"/>
<path id="c18" d="M1361 1200L1364.5 1195Q1368 1190 1372.5 1183Q1377 1176 1382.5 1166.5Q1388 1157 1392.5 1148.5Q1397 1140 1403 1128Q1409 1116 1415.2 1102.5Q1421.4 1089 1428.2 1076.5Q1435 1064 1442.3 1051.8Q1449.7 1039.6 1457.3 1026.8Q1465 1014 1472.5 1002Q1479.9 990 1488 975Q1496 960 1503 945Q1510 930 1517 913.8Q1523.9 897.6 1534.5 878.8Q1545 860 1554 843Q1563 826 1570.3 819Q1577.7 812 1585.3 801Q1592.9 790 1601.2 778.1Q1609.6 766.2 1619.5 758.3Q1629.5 750.4 1639.4 745Q1649.3 739.5 1659.2 735.8Q1669.1 732 1679 731.2Q1688.9 730.5 1698.8 730.4Q1708.8 730.3 1719.4 731.1Q1730 732 1738.7 735.2Q1747.3 738.5 1757.5 744.6Q1767.7 750.8 1774.5 757.6Q1781.3 764.4 1787.7 772.2Q1794 780 1800.7 787.2Q1807.3 794.5 1820.9 806.8Q1834.5 819.1 1848.2 830.7Q1861.8 842.2 1875.4 852.5Q1889.1 862.7 1899.3 867.5Q1909.5 872.2 1919.8 870.2Q1930 868.2 1940.2 860Q1950.4 851.8 1957.2 843.6Q1964 835.4 1972 825.8Q1980 816.3 1985.3 807.2Q1990.7 798.2 1997.6 785.2Q2004.4 772.2 2011.9 759.2Q2019.4 746.1 2024 733.1Q2028.5 720.1 2032.7 707.1Q2036.9 694.1 2041.2 681.1Q2045.4 668.1 2049.2 655Q2053 642 2056.5 632Q2060 622 2064 612"/>
<path id="c19" d="M1371 1192L1378.8 1202.8Q1386.5 1213.6 1395.8 1222.8Q1405 1232 1414.3 1241.4Q1423.6 1250.8 1432.9 1256.4Q1442.2 1262 1451.1 1265.7Q1460 1269.4 1465 1270.2Q1470 1271 1476.5 1267.5Q1483 1264 1496 1255Q1509 1246 1522 1239.5Q1535 1233 1548 1230.5Q1561 1228 1580.5 1228Q1600 1228 1620 1228.5Q1640 1229 1651 1227.8Q1662.1 1226.5 1683.2 1222.2Q1704.3 1218 1725.3 1209.6Q1746.4 1201.2 1767.5 1188.6Q1788.5 1176 1809.6 1158Q1830.7 1140.1 1846.5 1123.2Q1862.3 1106.4 1878.1 1082.2Q1893.9 1058 1906.5 1035.8Q1919.1 1013.7 1930.7 992.7Q1942.3 971.6 1945.7 965.8Q1949 960 1954.5 945.5Q1960 930.9 1965.5 917.2Q1970.9 903.6 1975.5 890Q1980 876.3 1988.5 856.6Q1997 837 2002.5 824.5Q2008 812 2011.1 805.1Q2014.2 798.2 2017.5 785.2Q2020.7 772.2 2025.6 759.2Q2030.4 746.1 2034.7 733.1Q2038.9 720.1 2042.5 707.1Q2046 694.1 2049.2 681.1Q2052.5 668.1 2056.1 655Q2059.7 642 2064.9 618"/>
<path id="c20" d="M1360.5 1208L1360.5 1199Q1360.5 1190 1363.2 1184Q1366 1178 1373.5 1160.8Q1381 1143.6 1386.5 1130Q1392 1116.4 1397.6 1102.8Q1403.2 1089.1 1407.6 1075.4Q1412 1061.8 1416.9 1050.7Q1421.8 1039.6 1428.2 1023.4Q1434.5 1007.3 1437.8 998.6Q1441 990 1442.9 985Q1444.8 980 1449.5 970Q1454.2 960 1462.1 946.9Q1470 933.8 1480.2 915.7Q1490.5 897.6 1496 879Q1501.6 860.4 1509 841.8Q1516.5 823.2 1521.2 804.6Q1525.8 786 1528.6 767.4Q1531.4 748.8 1535.8 730.2Q1540.1 711.6 1544.8 693Q1549.4 674.4 1554.8 655.8Q1560.2 637.2 1565.1 626.1Q1570 615 1575 605Q1580 594.9 1586.2 579.4Q1592.4 563.9 1598.6 553.4Q1604.8 542.9 1611 535.5Q1617.2 528 1623.4 522.4Q1629.6 516.8 1635.8 511.8Q1642 506.9 1648.2 502.5Q1654.4 498.2 1660.6 495.1Q1666.8 492 1672.9 489.6Q1679.1 487.1 1685.3 484.6Q1691.5 482.1 1697.7 479.6Q1703.9 477.2 1710.1 473.4Q1716.3 469.7 1720.7 468.1Q1725 466.6 1731.8 459.1Q1738.6 451.7 1744.8 444.2Q1751 436.8 1756 429.4Q1760.9 422 1766.5 411.4Q1772 400.9 1777 395.3Q1782 389.7 1787 387.2Q1791.9 384.8 1796.8 388.5Q1801.8 392.2 1806.8 399.6Q1811.7 407.1 1816.7 415.8Q1821.6 424.4 1825.3 432.4Q1829 440.5 1832.1 449.8Q1835.2 459.1 1837.7 468.4Q1840.2 477.7 1842.1 487Q1843.9 496.3 1846.4 505.6Q1848.9 514.9 1850.8 524.2Q1852.6 533.5 1854.4 542.8Q1856.3 552.1 1859.7 569.7Q1863.1 587.3 1866.5 600.9Q1869.9 614.5 1873.3 628.1Q1876.7 641.8 1880.1 652Q1883.5 662.2 1888.2 671Q1893 679.9 1896.5 685.3Q1900 690.8 1907.5 697.1Q1915 703.5 1924.1 706.8Q1933.2 710 1938.3 710.6Q1943.4 711.3 1954.7 706.6Q1966 701.9 1979 693.5Q1992 685 2001.8 677.9Q2011.6 670.7 2021.3 661Q2031.1 651.2 2040.8 638.8Q2050.6 626.4 2057.1 613.4Q2063.6 600.4 2070 598"/>
</defs>
<g fill="none" stroke="#FF0000" stroke-linejoin="round" stroke-linecap="butt">
<use href="#c11" stroke-width="10"/>
<use href="#c11" stroke-width="3.5" transform="translate(3.3 3.3)"/>
<use href="#c11" stroke-width="3.5" transform="translate(-3.3 3.3)"/>
<use href="#c11" stroke-width="3.5" transform="translate(3.3 -3.3)"/>
<use href="#c11" stroke-width="3.5" transform="translate(-3.3 -3.3)"/>
</g>
<g fill="none" stroke="#00FFFF" stroke-linejoin="round" stroke-linecap="butt">
<use href="#c12" stroke-width="10"/>
<use href="#c12" stroke-width="3.5" transform="translate(3.3 3.3)"/>
<use href="#c12" stroke-width="3.5" transform="translate(-3.3 3.3)"/>
<use href="#c12" stroke-width="3.5" transform="translate(3.3 -3.3)"/>
<use href="#c12" stroke-width="3.5" transform="translate(-3.3 -3.3)"/>
</g>
<g fill="none" stroke="#0000FF" stroke-linejoin="round" stroke-linecap="butt">
<use href="#c13" stroke-width="10"/>
<use href="#c13" stroke-width="3.5" transform="translate(3.3 3.3)"/>
<use href="#c13" stroke-width="3.5" transform="translate(-3.3 3.3)"/>
<use href="#c13" stroke-width="3.5" transform="translate(3.3 -3.3)"/>
<use href="#c13" stroke-width="3.5" transform="translate(-3.3 -3.3)"/>
</g>
<g fill="none" stroke="#008000" stroke-linejoin="round" stroke-linecap="butt">
<use href="#c14" stroke-width="10"/>
<use href="#c14" stroke-width="3.5" transform="translate(3.3 3.3)"/>
<use href="#c14" stroke-width="3.5" transform="translate(-3.3 3.3)"/>
<use href="#c14" stroke-width="3.5" transform="translate(3.3 -3.3)"/>
<use href="#c14" stroke-width="3.5" transform="translate(-3.3 -3.3)"/>
</g>
<g fill="none" stroke="#808000" stroke-linejoin="round" stroke-linecap="butt">
<use href="#c15" stroke-width="10"/>
<use href="#c15" stroke-width="3.5" transform="translate(3.3 3.3)"/>
<use href="#c15" stroke-width="3.5" transform="translate(-3.3 3.3)"/>
<use href="#c15" stroke-width="3.5" transform="translate(3.3 -3.3)"/>
<use href="#c15" stroke-width="3.5" transform="translate(-3.3 -3.3)"/>
</g>
<g fill="none" stroke="#800080" stroke-linejoin="round" stroke-linecap="butt">
<use href="#c16" stroke-width="10"/>
<use href="#c16" stroke-width="3.5" transform="translate(3.3 3.3)"/>
<use href="#c16" stroke-width="3.5" transform="translate(-3.3 3.3)"/>
<use href="#c16" stroke-width="3.5" transform="translate(3.3 -3.3)"/>
<use href="#c16" stroke-width="3.5" transform="translate(-3.3 -3.3)"/>
</g>
<g fill="none" stroke="#FF80FF" stroke-linejoin="round" stroke-linecap="butt">
<use href="#c17" stroke-width="10"/>
<use href="#c17" stroke-width="3.5" transform="translate(3.3 3.3)"/>
<use href="#c17" stroke-width="3.5" transform="translate(-3.3 3.3)"/>
<use href="#c17" stroke-width="3.5" transform="translate(3.3 -3.3)"/>
<use href="#c17" stroke-width="3.5" transform="translate(-3.3 -3.3)"/>
</g>
<g fill="none" stroke="#FF8000" stroke-linejoin="round" stroke-linecap="butt">
<use href="#c18" stroke-width="10"/>
<use href="#c18" stroke-width="3.5" transform="translate(3.3 3.3)"/>
<use href="#c18" stroke-width="3.5" transform="translate(-3.3 3.3)"/>
<use href="#c18" stroke-width="3.5" transform="translate(3.3 -3.3)"/>
<use href="#c18" stroke-width="3.5" transform="translate(-3.3 -3.3)"/>
</g>
<g fill="none" stroke="#000000" stroke-linejoin="round" stroke-linecap="butt">
<use href="#c19" stroke-width="10"/>
<use href="#c19" stroke-width="3.5" transform="translate(3.3 3.3)"/>
<use href="#c19" stroke-width="3.5" transform="translate(-3.3 3.3)"/>
<use href="#c19" stroke-width="3.5" transform="translate(3.3 -3.3)"/>
<use href="#c19" stroke-width="3.5" transform="translate(-3.3 -3.3)"/>
</g>
<g fill="none" stroke="#00FF00" stroke-linejoin="round" stroke-linecap="butt">
<use href="#c20" stroke-width="10"/>
<use href="#c20" stroke-width="3.5" transform="translate(3.3 3.3)"/>
<use href="#c20" stroke-width="3.5" transform="translate(-3.3 3.3)"/>
<use href="#c20" stroke-width="3.5" transform="translate(3.3 -3.3)"/>
<use href="#c20" stroke-width="3.5" transform="translate(-3.3 -3.3)"/>
</g>
<text transform="translate(1491 1562.8) scale(1.016 1.045)" font-size="61.5">Temperature K</text>
<text transform="translate(1165.8 898.7) rotate(-90) scale(1 1.058)" font-size="60">DSC/mW/mg</text>
<text x="1688" y="189.9" font-size="120">b</text>
<g>
<line x1="1311" y1="85.3" x2="1343" y2="85.3" stroke="#FF0000" stroke-width="3"/>
<line x1="1373" y1="85.3" x2="1405" y2="85.3" stroke="#FF0000" stroke-width="3"/>
<rect x="1352" y="79.8" width="11" height="11" fill="#FF0000"/>
<text transform="translate(1414.6 99.6) scale(1 1.06)" font-size="41.5">ERIN</text>
<line x1="1311" y1="135.4" x2="1343" y2="135.4" stroke="#00FFFF" stroke-width="3"/>
<line x1="1373" y1="135.4" x2="1405" y2="135.4" stroke="#00FFFF" stroke-width="3"/>
<rect x="1352" y="129.9" width="11" height="11" fill="#00FFFF"/>
<text transform="translate(1414.6 149.7) scale(1 1.06)" font-size="41.5">ERINa1</text>
<line x1="1311" y1="185.5" x2="1343" y2="185.5" stroke="#0000FF" stroke-width="3"/>
<line x1="1373" y1="185.5" x2="1405" y2="185.5" stroke="#0000FF" stroke-width="3"/>
<rect x="1352" y="180" width="11" height="11" fill="#0000FF"/>
<text transform="translate(1414.6 199.8) scale(1 1.06)" font-size="41.5">ERINa2</text>
<line x1="1311" y1="235.6" x2="1343" y2="235.6" stroke="#008000" stroke-width="3"/>
<line x1="1373" y1="235.6" x2="1405" y2="235.6" stroke="#008000" stroke-width="3"/>
<rect x="1352" y="230.1" width="11" height="11" fill="#008000"/>
<text transform="translate(1403.3 249.9) scale(1 1.06)" font-size="41.5">ERINa3</text>
<line x1="1311" y1="285.7" x2="1343" y2="285.7" stroke="#808000" stroke-width="3"/>
<line x1="1373" y1="285.7" x2="1405" y2="285.7" stroke="#808000" stroke-width="3"/>
<rect x="1352" y="280.2" width="11" height="11" fill="#808000"/>
<text transform="translate(1414.6 300) scale(1 1.06)" font-size="41.5">ERICa1</text>
<line x1="1311" y1="335.8" x2="1343" y2="335.8" stroke="#800080" stroke-width="3"/>
<line x1="1373" y1="335.8" x2="1405" y2="335.8" stroke="#800080" stroke-width="3"/>
<rect x="1352" y="330.3" width="11" height="11" fill="#800080"/>
<text transform="translate(1414.6 350.1) scale(1 1.06)" font-size="41.5">ERICa2</text>
<line x1="1311" y1="385.9" x2="1343" y2="385.9" stroke="#FF80FF" stroke-width="3"/>
<line x1="1373" y1="385.9" x2="1405" y2="385.9" stroke="#FF80FF" stroke-width="3"/>
<rect x="1352" y="380.4" width="11" height="11" fill="#FF80FF"/>
<text transform="translate(1414.6 400.2) scale(1 1.06)" font-size="41.5">ERICa3</text>
<line x1="1311" y1="436" x2="1343" y2="436" stroke="#FF8000" stroke-width="3"/>
<line x1="1373" y1="436" x2="1405" y2="436" stroke="#FF8000" stroke-width="3"/>
<rect x="1352" y="430.5" width="11" height="11" fill="#FF8000"/>
<text transform="translate(1414.6 450.3) scale(1 1.06)" font-size="41.5">ERIMg1</text>
<line x1="1311" y1="486.1" x2="1343" y2="486.1" stroke="#000000" stroke-width="3"/>
<line x1="1373" y1="486.1" x2="1405" y2="486.1" stroke="#000000" stroke-width="3"/>
<rect x="1352" y="480.6" width="11" height="11" fill="#000000"/>
<text transform="translate(1414.6 500.4) scale(1 1.06)" font-size="41.5">ERIMg2</text>
<line x1="1311" y1="536.2" x2="1343" y2="536.2" stroke="#00FF00" stroke-width="3"/>
<line x1="1373" y1="536.2" x2="1405" y2="536.2" stroke="#00FF00" stroke-width="3"/>
<rect x="1352" y="530.7" width="11" height="11" fill="#00FF00"/>
<text transform="translate(1414.6 550.5) scale(1 1.06)" font-size="41.5">ERIMg3</text>
</g>
</svg></body></html>
